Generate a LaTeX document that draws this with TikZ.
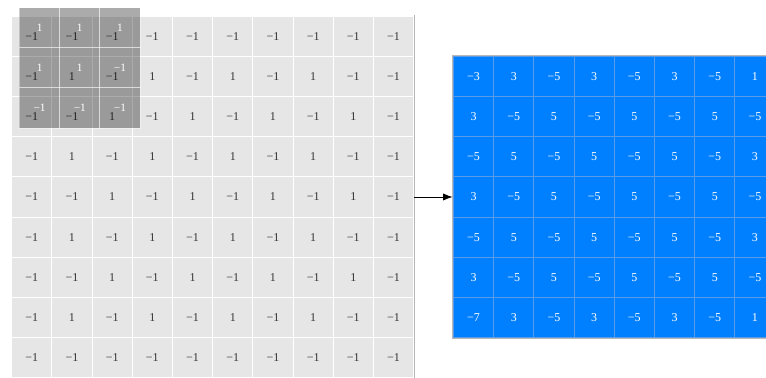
\documentclass[tikz,border=0pt]{standalone}
\usepackage{fontspec}
\setmainfont{Liberation Serif}
\usetikzlibrary{arrows.meta,positioning,fit}
\definecolor{cellgray}{HTML}{E6E6E6}
\definecolor{outblue}{HTML}{0080FF}
\definecolor{outline}{HTML}{5A9AE6}
\definecolor{frame}{HTML}{B8B8B8}

\begin{document}
\begin{tikzpicture}[
  cell/.style={rectangle, draw=white, line width=0.7pt, fill=cellgray, minimum size=1cm, inner sep=0pt, text=black!80, font=\fontsize{8.5}{9}\selectfont},
  kern/.style={rectangle, draw=white, draw opacity=0.4, line width=0.7pt, fill=black, fill opacity=0.33, text opacity=1, text=white, minimum size=1cm, inner sep=0pt, font=\fontsize{8}{9}\selectfont},
  outcell/.style={rectangle, draw=outline, line width=0.7pt, fill=outblue, minimum size=1cm, inner sep=0pt, text=white, font=\fontsize{8.5}{9}\selectfont},
  flow/.style={-{Latex[length=2.4mm]}, black, line width=0.6pt}
]
\clip (0,0) rectangle (19.055,-9.403);

% input grid
\foreach \vals [count=\i] in {
  {−1,−1,−1,−1,−1,−1,−1,−1,−1,−1},
  {−1,1,−1,1,−1,1,−1,1,−1,−1},
  {−1,−1,1,−1,1,−1,1,−1,1,−1},
  {−1,1,−1,1,−1,1,−1,1,−1,−1},
  {−1,−1,1,−1,1,−1,1,−1,1,−1},
  {−1,1,−1,1,−1,1,−1,1,−1,−1},
  {−1,−1,1,−1,1,−1,1,−1,1,−1},
  {−1,1,−1,1,−1,1,−1,1,−1,−1},
  {−1,−1,−1,−1,−1,−1,−1,−1,−1,−1}}
  \foreach \v [count=\j] in \vals
    \node[cell] (c-\i-\j) at (0.29+\j-0.5, -0.40-\i+0.5) {\v};
\node[fit=(c-1-1)(c-9-10), inner sep=0pt] (input) {};
\draw[frame, line width=0.7pt] (input.north east) -- (input.south east);

% kernel
\foreach \vals [count=\i] in {{1,1,1},{1,1,−1},{−1,−1,−1}}
  \foreach \v [count=\j] in \vals
    \node[kern] (k-\i-\j) at (0.485+\j-0.5, -0.187-\i+0.5) {\v};

% output grid
\foreach \vals [count=\i] in {
  {−3,3,−5,3,−5,3,−5,1},
  {3,−5,5,−5,5,−5,5,−5},
  {−5,5,−5,5,−5,5,−5,3},
  {3,−5,5,−5,5,−5,5,−5},
  {−5,5,−5,5,−5,5,−5,3},
  {3,−5,5,−5,5,−5,5,−5},
  {−7,3,−5,3,−5,3,−5,1}}
  \foreach \v [count=\j] in \vals
    \node[outcell] (o-\i-\j) at (11.28+\j-0.5, -1.40-\i+0.5) {\v};
\node[fit=(o-1-1)(o-7-8), inner sep=0pt] (output) {};
\draw[frame, line width=0.7pt] (output.north west) rectangle (output.south east);

\draw[flow] (input.east) -- (output.west);
\end{tikzpicture}
\end{document}
